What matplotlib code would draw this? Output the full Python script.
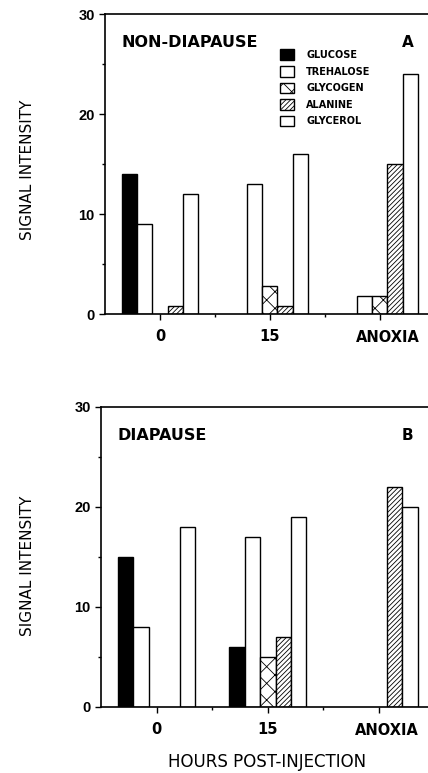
import matplotlib.pyplot as plt
import matplotlib.transforms as mtransforms
from matplotlib.patches import Patch
import numpy as np

plt.rcParams['font.family'] = ['DejaVu Sans']

groups = ['0', '15', 'ANOXIA']
series = ['GLUCOSE', 'TREHALOSE', 'GLYCOGEN', 'ALANINE', 'GLYCEROL']

# panel A: non-diapause
nondiapause = {
    'GLUCOSE':   [14, 0, 0],
    'TREHALOSE': [9, 13, 1.8],
    'GLYCOGEN':  [0, 2.8, 1.8],
    'ALANINE':   [0.8, 0.8, 15],
    'GLYCEROL':  [12, 16, 24],
}
# panel B: diapause
diapause = {
    'GLUCOSE':   [15, 6, 0],
    'TREHALOSE': [8, 17, 0],
    'GLYCOGEN':  [0, 5, 0],
    'ALANINE':   [0, 7, 22],
    'GLYCEROL':  [18, 19, 20],
}

styles = {
    'GLUCOSE':   dict(facecolor='black', hatch=None),
    'TREHALOSE': dict(facecolor='white', hatch=None),
    'GLYCOGEN':  dict(facecolor='white', hatch='xx'),
    'ALANINE':   dict(facecolor='white', hatch='///////'),
    'GLYCEROL':  dict(facecolor='white', hatch=None),
}

plt.rcParams['hatch.linewidth'] = 0.6

W, H = 428, 773
fig = plt.figure(figsize=(W / 100, H / 100), dpi=100)

ax1 = fig.add_axes([105 / W, 1 - 314 / H, 333 / W, 300 / H])
ax2 = fig.add_axes([101 / W, 1 - 707 / H, 337 / W, 300 / H])

x = np.arange(len(groups))
bw = 0.139


def draw(ax, data, title, letter):
    for i, s in enumerate(series):
        off = (i - 2) * bw
        for xi, v in zip(x, data[s]):
            if v <= 0:
                continue
            ax.bar(xi + off, v, bw, color=styles[s]['facecolor'],
                   hatch=styles[s]['hatch'], edgecolor='black', linewidth=1.0)
    ax.set_xlim(-0.5, 2.53)
    ax.set_ylim(0, 30)
    ax.set_yticks([0, 10, 20, 30])
    ax.set_yticks([5, 15, 25], minor=True)
    ax.set_xticks(x)
    ax.set_xticks([0.5, 1.5], minor=True)
    # last label drawn by hand, it sits a little right of its tick
    ax.set_xticklabels(groups[:2] + [''], fontweight='bold', fontsize=10.5)
    trans = mtransforms.blended_transform_factory(ax.transData, ax.transAxes)
    ax.text(2.07, -0.077, groups[2], transform=trans, ha='center', va='center',
            fontweight='bold', fontsize=10.5)
    for lab in ax.get_yticklabels():
        lab.set_fontweight('bold')
        lab.set_fontsize(10.5)
        lab.set_family('Liberation Sans')
    ax.tick_params(axis='both', which='major', direction='out', length=4, width=1)
    ax.tick_params(axis='both', which='minor', direction='out', length=2, width=1)
    ax.tick_params(axis='x', pad=7)
    ax.spines['right'].set_visible(False)
    for sp in ax.spines.values():
        sp.set_linewidth(1.2)
    ax.text(0.05, 0.905, title, transform=ax.transAxes, fontweight='bold', fontsize=11.5,
            va='center')
    ax.text(0.893, 0.905, letter, transform=ax.transAxes, fontweight='bold', fontsize=11,
            va='center')


draw(ax1, nondiapause, 'NON-DIAPAUSE', 'A')
draw(ax2, diapause, 'DIAPAUSE', 'B')

handles = [Patch(facecolor=styles[s]['facecolor'], hatch=styles[s]['hatch'],
                 edgecolor='black', linewidth=1.0) for s in series]
ax1.legend(handles, series, loc='upper left', bbox_to_anchor=(0.515, 0.895),
           frameon=False, prop={'size': 7, 'weight': 'bold'},
           handlelength=1.45, handleheight=1.3, labelspacing=0.62,
           handletextpad=1.2, borderaxespad=0)

fig.text(28 / W, 1 - 170 / H, 'SIGNAL INTENSITY', rotation=90, ha='center', va='center',
         fontsize=11)
fig.text(28 / W, 1 - 566 / H, 'SIGNAL INTENSITY', rotation=90, ha='center', va='center',
         fontsize=11)
fig.text(267 / W, 1 - 762 / H, 'HOURS POST-INJECTION', ha='center', va='center',
         fontsize=12)

plt.savefig('out.png', dpi=100)
